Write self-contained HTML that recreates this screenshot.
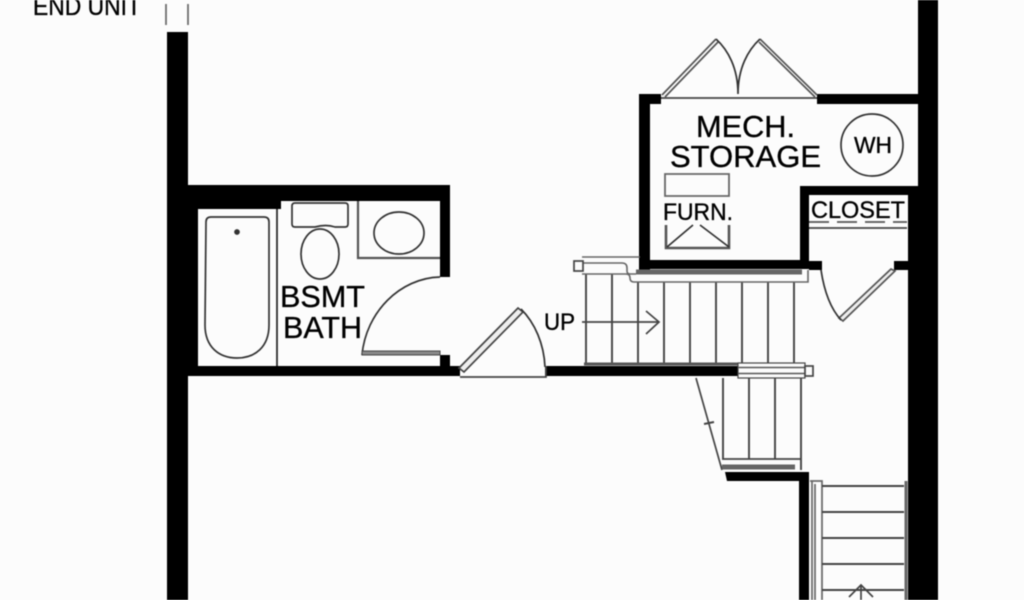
<!DOCTYPE html>
<html><head><meta charset="utf-8"><style>
html,body{margin:0;padding:0;background:#fcfcfc}
svg{display:block;filter:blur(.4px)}
text{font-family:"Liberation Sans",sans-serif;fill:#000;stroke:#000;stroke-width:.35px}
</style></head><body>
<svg width="1024" height="600" viewBox="0 0 1024 600" xmlns="http://www.w3.org/2000/svg">
<rect width="1024" height="600" fill="#fcfcfc"/>
<!-- walls -->
<g fill="#000">
<rect x="167" y="32" width="21" height="568"/>
<rect x="188" y="185" width="262" height="16"/>
<rect x="188" y="201" width="93" height="8"/>
<rect x="188" y="209" width="10" height="167"/>
<rect x="440" y="201" width="10" height="76"/>
<rect x="188" y="366" width="272" height="10"/>
<rect x="440" y="355" width="10" height="11"/>
<rect x="545" y="366" width="193" height="10"/>
<rect x="918" y="0" width="20" height="600"/>
<rect x="908" y="187" width="12" height="413"/>
<rect x="639" y="94" width="22" height="10"/>
<rect x="639" y="94" width="11" height="176"/>
<rect x="817" y="94" width="101" height="10"/>
<rect x="639" y="260" width="170" height="9"/>
<rect x="800" y="186" width="9" height="83"/>
<rect x="800" y="186" width="118" height="9"/>
<rect x="809" y="261" width="13" height="9"/>
<rect x="894" y="261" width="14" height="9"/>
<polygon points="725,472 809,472 809,481 727,481"/>
<rect x="799" y="472" width="10" height="128"/>
</g>
<g fill="none" stroke="#333" stroke-width="1.7">
<!-- end unit ticks -->
<path d="M166 4V25M188 4V25" stroke="#666"/>
<!-- bath -->
<path d="M277 209V366" stroke="#222"/>
<path d="M206 222q0-5 5-5h53q5 0 5 5v103c0 22-14 33-32 33s-32-11-32-33z"/>
<circle cx="237" cy="232" r="2" fill="#333"/>
<path d="M292 206q0-3 3-3h50q3 0 3 3v18q0 3-3 3h-10q-9-3-20 0h-20q-3 0-3-3z"/>
<ellipse cx="320" cy="254" rx="19" ry="25"/>
<path d="M358 201V258H440" stroke="#555" stroke-width="2.2"/>
<ellipse cx="399" cy="233" rx="25" ry="21"/>
<path d="M362 355C366 312 400 278 440 277"/>
<rect x="362" y="351" width="78" height="4" fill="#888" stroke="#444" stroke-width="1"/>
<!-- basement door -->
<path d="M460 377H546V366" stroke="#444"/>
<path d="M459 368L518 308L523 312L464 372Z" fill="#eee" stroke="#444"/>
<path d="M521 309C535 323 544 344 545 367"/>
<!-- mech doors -->
<path d="M661 98H817" stroke="#444" stroke-width="1.8"/>
<path d="M662 95L716 39M665 97L718 42" stroke="#555"/>
<path d="M760 39L817 95M759 42L815 97" stroke="#555"/>
<path d="M716 39C728 50 738 68 738 94M760 39C748 50 738 68 738 94"/>
<circle cx="872" cy="145" r="31"/>
<!-- furnace -->
<path d="M665 174H729V196H665Z" stroke="#666" stroke-width="1.8"/>
<path d="M666 225V248H729V225" stroke="#555" stroke-width="2.6"/>
<path d="M667 247L693 225M729 247L700 225"/>
<!-- closet -->
<path d="M809 222H907" stroke="#555" stroke-dasharray="20 8"/>
<path d="M809 228H907" stroke="#444"/>
<path d="M891 269L839 318L843 321L895 271Z" fill="#eee" stroke="#555"/>
<path d="M821 270C824 290 830 308 841 320"/>
<!-- upper stair -->
<path d="M586 274V363M612 274V363M638 282V363M664 282V363M690 282V363M716 282V363M742 282V363M768 282V363M794 282V363" stroke="#444" stroke-width="1.9"/>
<path d="M582 257H640M582 263H622q5 0 5 5v3q0 3 3 3h6M582 274H626q4 0 4 4q0 4 4 4H808V270" stroke="#666" stroke-width="1.6"/>
<path d="M636 272H802" stroke="#666" stroke-width="5"/>
<rect x="574" y="261" width="9" height="10" fill="#fcfcfc" stroke="#444"/>
<path d="M582 322H658M646 311L659 322L646 334" stroke="#444"/>
<path d="M584 364H738" stroke="#555" stroke-width="3"/>
<!-- lower landing rail -->
<rect x="738" y="363" width="67" height="15" fill="#fcfcfc" stroke="#444" stroke-width="1.2"/>
<path d="M738 367.500H805M738 373.500H805" stroke="#555" stroke-width="1.4"/>
<rect x="805" y="366" width="8" height="10" fill="#fcfcfc" stroke="#444"/>
<!-- lower stair flight -->
<path d="M723 378V459M749 378V459M775 378V459M801 378V470" stroke="#444" stroke-width="1.9"/>
<path d="M696 378L722 470" stroke="#444"/>
<path d="M704 424L714 422" stroke="#444" stroke-width="2"/>
<path d="M722 459H801" stroke="#444"/>
<path d="M722 467H795" stroke="#666" stroke-width="5"/>
<!-- bottom flight -->
<path d="M810 481H822V600M812 481V600M815 484V600" stroke="#666"/>
<path d="M822 486H904M822 512H904M822 538H904M822 564H904M822 590H904" stroke="#444" stroke-width="1.9"/>
<path d="M906 481V600" stroke="#666" stroke-width="3"/>
<path d="M861 585V600M849 597L861 585L873 597" stroke="#444"/>
</g>
<!-- labels -->
<text x="33" y="15" font-size="25" textLength="108" lengthAdjust="spacingAndGlyphs">END UNIT</text>
<text x="280" y="307" font-size="31" textLength="85" lengthAdjust="spacingAndGlyphs">BSMT</text>
<text x="283" y="338" font-size="31" textLength="79" lengthAdjust="spacingAndGlyphs">BATH</text>
<text x="696" y="137" font-size="31" textLength="99" lengthAdjust="spacingAndGlyphs">MECH.</text>
<text x="670" y="167" font-size="31" textLength="151" lengthAdjust="spacingAndGlyphs">STORAGE</text>
<text x="854" y="153" font-size="23" textLength="38" lengthAdjust="spacingAndGlyphs">WH</text>
<text x="663" y="220" font-size="24" textLength="70" lengthAdjust="spacingAndGlyphs">FURN.</text>
<text x="811" y="218" font-size="24" textLength="94" lengthAdjust="spacingAndGlyphs">CLOSET</text>
<text x="544" y="330" font-size="24" textLength="31" lengthAdjust="spacingAndGlyphs">UP</text>
</svg>
</body></html>
